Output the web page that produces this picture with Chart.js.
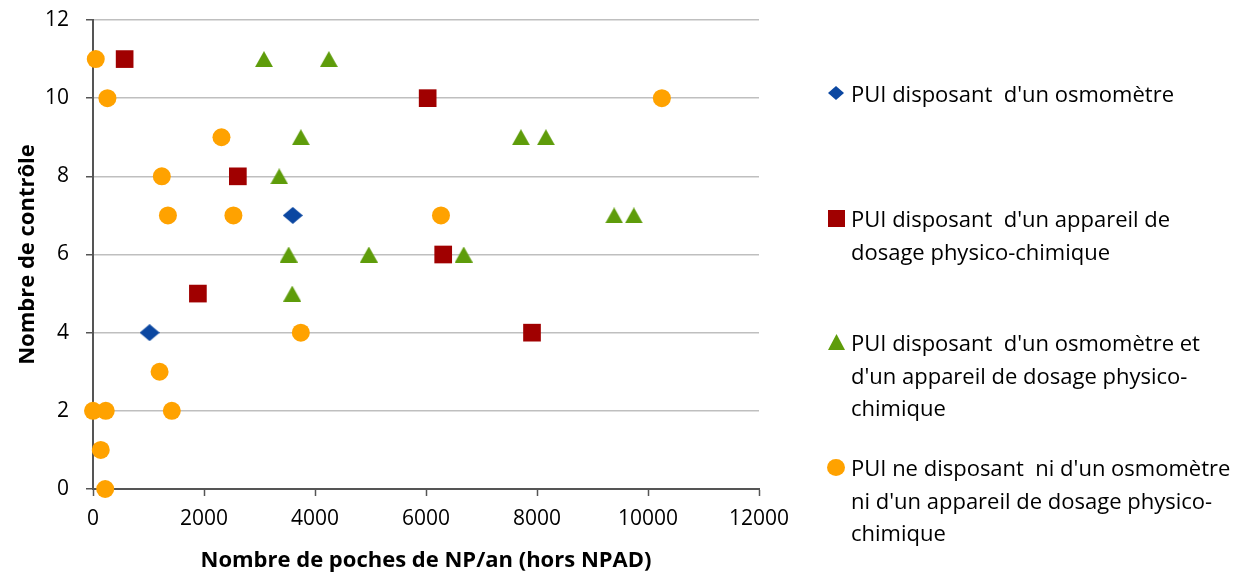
<!DOCTYPE html>
<html>
<head>
<meta charset="utf-8">
<script src="https://cdn.jsdelivr.net/npm/chart.js@4"></script>
<style>
  body { margin: 0; background: #fff; }
  #wrap { position: relative; width: 1248px; height: 577px; }
  #legend { position: absolute; left: 0; top: 0; font-family: "Open Sans", sans-serif; font-size: 22px; color: #000; }
  .item { position: absolute; left: 851px; line-height: 32.5px; white-space: pre; }
  .item img { position: absolute; }
</style>
</head>
<body>
<div id="wrap">
  <canvas id="chart-canvas" width="1248" height="577"></canvas>
  <div id="legend"></div>
</div>
<script>
// series labels (legend lines)
const seriesNames = [
  ["PUI disposant  d'un osmomètre"],
  ["PUI disposant  d'un appareil de", "dosage physico-chimique"],
  ["PUI disposant  d'un osmomètre et", "d'un appareil de dosage physico-", "chimique"],
  ["PUI ne disposant  ni d'un osmomètre", "ni d'un appareil de dosage physico-", "chimique"]
];

// values
const osmoX = [1020, 3600];
const osmoY = [4, 7];
const dosageX = [570, 1890, 2610, 6030, 6310, 7910];
const dosageY = [11, 5, 8, 10, 6, 4];
const bothX = [3080, 4250, 3745, 3355, 3525, 4970, 3590, 7710, 8160, 9390, 9745, 6680];
const bothY = [11, 11, 9, 8, 6, 6, 5, 9, 9, 7, 7, 6];
const noneX = [50, 260, 2315, 1240, 1350, 2530, 6270, 10250, 3745, 1200, 0, 230, 1420, 140, 220];
const noneY = [11, 10, 9, 8, 7, 7, 7, 10, 4, 3, 2, 2, 2, 1, 0];

const xTicks = [0, 2000, 4000, 6000, 8000, 10000, 12000];
const yTicks = [0, 2, 4, 6, 8, 10, 12];

const colors = ['#0B47A1', '#A00000', '#5E9C0A', '#FFA200'];
const shapes = ['diamond', 'square', 'triangle', 'ellipse'];

// marker images, centred on their bounding box (like the original)
function makeMarker(shape, color, w, h) {
  const c = document.createElement('canvas');
  c.width = w; c.height = h;
  const g = c.getContext('2d');
  g.fillStyle = color;
  g.beginPath();
  if (shape === 'diamond') {
    g.moveTo(w / 2, 0); g.lineTo(w, h / 2); g.lineTo(w / 2, h); g.lineTo(0, h / 2);
  } else if (shape === 'square') {
    g.rect(0, 0, w, h);
  } else if (shape === 'triangle') {
    g.moveTo(w / 2, 0); g.lineTo(w, h); g.lineTo(0, h);
  } else {
    g.ellipse(w / 2, h / 2, w / 2, h / 2, 0, 0, Math.PI * 2);
  }
  g.closePath();
  g.fill();
  return c;
}

const legendSizes = [[16, 14], [17, 17], [17, 16], [18, 17]];
const legendMarkers = shapes.map((s, i) => makeMarker(s, colors[i], legendSizes[i][0], legendSizes[i][1]));
// plot markers: diamond and triangle as images, square and circle native
const pointStyles = [makeMarker('diamond', colors[0], 20, 17), 'rect', makeMarker('triangle', colors[2], 18, 16), 'circle'];
const pointRadii = [10, 12.5, 10, 9];

function pts(xs, ys) {
  return xs.map((x, i) => ({ x: x, y: ys[i] }));
}

const allData = [pts(osmoX, osmoY), pts(dosageX, dosageY), pts(bothX, bothY), pts(noneX, noneY)];

const axisDark = '#555555';
const tickFont = { family: '"Open Sans", sans-serif', size: 21 };
const titleFont = { family: '"Open Sans", sans-serif', size: 22, weight: 'bold' };

const ctx = document.getElementById('chart-canvas').getContext('2d');
const chart = new Chart(ctx, {
  type: 'scatter',
  data: {
    datasets: allData.map((d, i) => ({
      label: seriesNames[i].join(' '),
      data: d,
      pointStyle: pointStyles[i],
      pointRadius: pointRadii[i],
      pointHoverRadius: pointRadii[i],
      backgroundColor: colors[i],
      borderColor: colors[i],
      borderWidth: 0,
      clip: false
    }))
  },
  options: {
    responsive: false,
    animation: false,
    layout: { autoPadding: false, padding: { top: 20, right: 489, left: 0, bottom: 0 } },
    plugins: { legend: { display: false }, tooltip: { enabled: false } },
    scales: {
      x: {
        type: 'linear',
        min: 0,
        max: 12000,
        afterBuildTicks: (s) => { s.ticks = xTicks.map(v => ({ value: v })); },
        afterFit: (s) => { s.height = 88; },
        grid: { drawOnChartArea: false, drawTicks: true, tickLength: 7, tickColor: axisDark, tickWidth: 1.5 },
        border: { color: axisDark, width: 2 },
        ticks: { color: '#000', font: tickFont, padding: 10, maxRotation: 0, callback: (v) => String(v) },
        title: { display: true, text: 'Nombre de poches de NP/an (hors NPAD)', color: '#000', font: titleFont, padding: 3 }
      },
      y: {
        type: 'linear',
        min: 0,
        max: 12,
        afterBuildTicks: (s) => { s.ticks = yTicks.map(v => ({ value: v })); },
        afterFit: (s) => { s.width = 93; s.paddingTop = 10; s.paddingBottom = 10; },
        grid: { color: '#BFBFBF', lineWidth: 1.5, drawTicks: true, tickLength: 7, tickColor: axisDark, tickWidth: 1.5 },
        border: { color: axisDark, width: 2 },
        ticks: { color: '#000', font: tickFont, padding: 17, callback: (v) => String(v) },
        title: { display: true, text: 'Nombre de contrôle', color: '#000', font: titleFont, padding: 15 }
      }
    }
  }
});

// html legend, built from the series arrays
const legendTops = [77, 202, 326, 451];
const legend = document.getElementById('legend');
seriesNames.forEach((lines, i) => {
  const div = document.createElement('div');
  div.className = 'item';
  div.style.top = legendTops[i] + 'px';
  const img = document.createElement('img');
  img.src = legendMarkers[i].toDataURL();
  img.style.top = (16 - legendSizes[i][1] / 2) + 'px';
  img.style.left = (-15 - legendSizes[i][0] / 2) + 'px';
  div.appendChild(img);
  div.appendChild(document.createTextNode(lines.join('\n')));
  legend.appendChild(div);
});
</script>
</body>
</html>
